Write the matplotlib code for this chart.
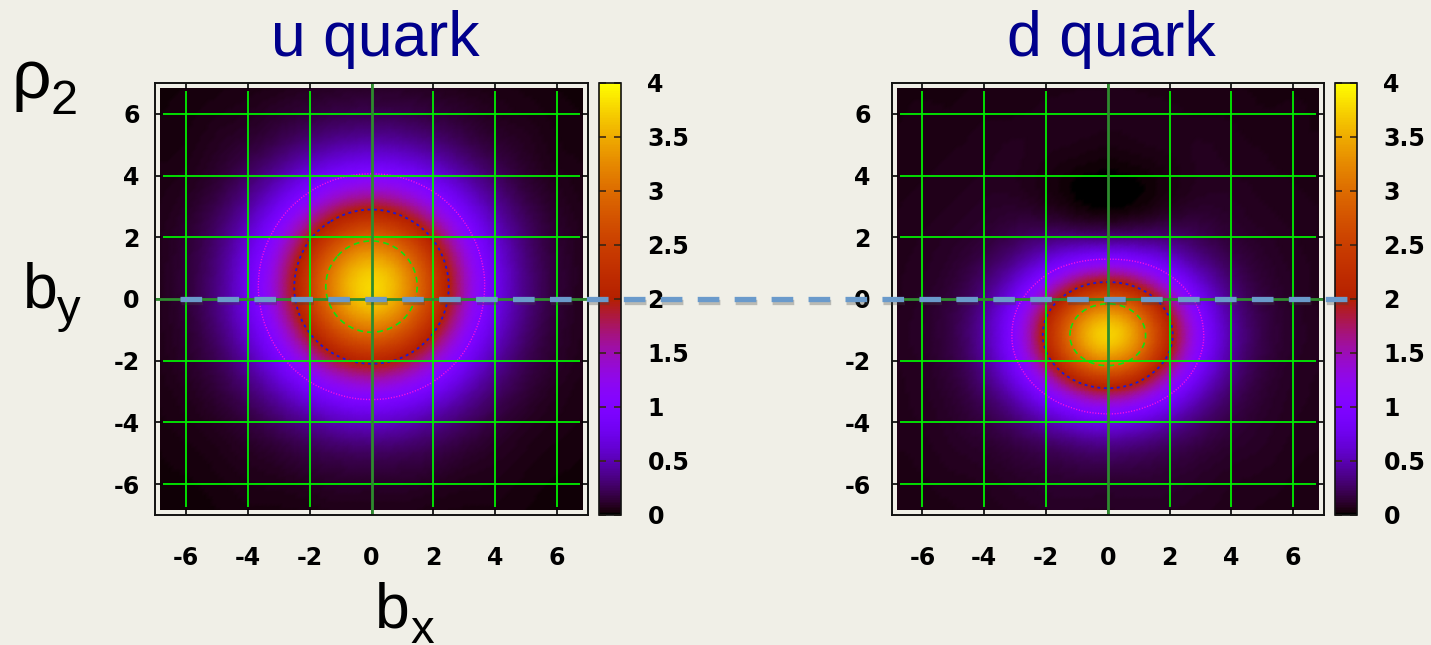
import numpy as np
import matplotlib
matplotlib.use("Agg")
import matplotlib.pyplot as plt
import matplotlib.tri as mtri
import matplotlib.patheffects as pe
from matplotlib.lines import Line2D
from matplotlib.patches import Rectangle
from matplotlib import transforms

# ---------------- data ----------------
b_grid = [-7, -6, -5, -4, -3, -2, -1, 0, 1, 2, 3, 4, 5, 6, 7]   # b_x and b_y sample points
# rows: b_y = 7 (top) ... -7 (bottom); columns: b_x = -7 ... 7
u_density = [
    [0.03, 0.03, 0.04, 0.05, 0.06, 0.08, 0.09, 0.10, 0.09, 0.08, 0.06, 0.05, 0.04, 0.03, 0.03],
    [0.03, 0.04, 0.06, 0.08, 0.12, 0.16, 0.20, 0.21, 0.20, 0.16, 0.12, 0.08, 0.06, 0.04, 0.03],
    [0.04, 0.05, 0.09, 0.14, 0.23, 0.35, 0.45, 0.49, 0.45, 0.35, 0.23, 0.14, 0.09, 0.05, 0.04],
    [0.05, 0.07, 0.13, 0.26, 0.46, 0.72, 0.95, 1.04, 0.95, 0.72, 0.46, 0.26, 0.13, 0.07, 0.05],
    [0.06, 0.10, 0.21, 0.43, 0.80, 1.29, 1.72, 1.90, 1.72, 1.29, 0.80, 0.43, 0.21, 0.10, 0.06],
    [0.07, 0.13, 0.29, 0.62, 1.19, 1.94, 2.61, 2.89, 2.61, 1.94, 1.19, 0.62, 0.29, 0.13, 0.07],
    [0.07, 0.15, 0.34, 0.76, 1.47, 2.41, 3.27, 3.63, 3.27, 2.41, 1.47, 0.76, 0.34, 0.15, 0.07],
    [0.07, 0.15, 0.35, 0.77, 1.50, 2.46, 3.33, 3.71, 3.33, 2.46, 1.50, 0.77, 0.35, 0.15, 0.07],
    [0.07, 0.13, 0.30, 0.65, 1.26, 2.06, 2.77, 3.07, 2.77, 2.06, 1.26, 0.65, 0.30, 0.13, 0.07],
    [0.06, 0.11, 0.22, 0.46, 0.88, 1.42, 1.90, 2.10, 1.90, 1.42, 0.88, 0.46, 0.22, 0.11, 0.06],
    [0.05, 0.08, 0.15, 0.29, 0.52, 0.82, 1.08, 1.19, 1.08, 0.82, 0.52, 0.29, 0.15, 0.08, 0.05],
    [0.04, 0.06, 0.09, 0.16, 0.27, 0.40, 0.53, 0.58, 0.53, 0.40, 0.27, 0.16, 0.09, 0.06, 0.04],
    [0.03, 0.04, 0.06, 0.09, 0.13, 0.19, 0.23, 0.25, 0.23, 0.19, 0.13, 0.09, 0.06, 0.04, 0.03],
    [0.03, 0.03, 0.04, 0.06, 0.07, 0.09, 0.11, 0.11, 0.11, 0.09, 0.07, 0.06, 0.04, 0.03, 0.03],
    [0.02, 0.03, 0.03, 0.04, 0.04, 0.05, 0.06, 0.06, 0.06, 0.05, 0.04, 0.04, 0.03, 0.03, 0.02],
]
d_density = [
    [0.04, 0.04, 0.04, 0.05, 0.05, 0.05, 0.06, 0.06, 0.06, 0.05, 0.05, 0.05, 0.04, 0.04, 0.04],
    [0.04, 0.05, 0.05, 0.06, 0.06, 0.07, 0.07, 0.07, 0.07, 0.07, 0.06, 0.06, 0.05, 0.05, 0.04],
    [0.05, 0.05, 0.06, 0.07, 0.08, 0.07, 0.06, 0.05, 0.06, 0.07, 0.08, 0.07, 0.06, 0.05, 0.05],
    [0.05, 0.06, 0.07, 0.08, 0.08, 0.05, 0.02, 0.01, 0.02, 0.05, 0.08, 0.08, 0.07, 0.06, 0.05],
    [0.06, 0.07, 0.08, 0.10, 0.11, 0.08, 0.03, 0.01, 0.03, 0.08, 0.11, 0.10, 0.08, 0.07, 0.06],
    [0.06, 0.08, 0.10, 0.14, 0.22, 0.30, 0.33, 0.33, 0.33, 0.30, 0.22, 0.14, 0.10, 0.08, 0.06],
    [0.07, 0.09, 0.13, 0.24, 0.46, 0.83, 1.21, 1.37, 1.21, 0.83, 0.46, 0.24, 0.13, 0.09, 0.07],
    [0.07, 0.10, 0.17, 0.37, 0.84, 1.61, 2.43, 2.79, 2.43, 1.61, 0.84, 0.37, 0.17, 0.10, 0.07],
    [0.08, 0.11, 0.20, 0.46, 1.08, 2.11, 3.21, 3.72, 3.21, 2.11, 1.08, 0.46, 0.20, 0.11, 0.08],
    [0.08, 0.10, 0.18, 0.41, 0.95, 1.83, 2.78, 3.20, 2.78, 1.83, 0.95, 0.41, 0.18, 0.10, 0.08],
    [0.07, 0.09, 0.14, 0.28, 0.58, 1.08, 1.61, 1.85, 1.61, 1.08, 0.58, 0.28, 0.14, 0.09, 0.07],
    [0.07, 0.08, 0.11, 0.17, 0.29, 0.48, 0.67, 0.76, 0.67, 0.48, 0.29, 0.17, 0.11, 0.08, 0.07],
    [0.06, 0.07, 0.09, 0.11, 0.15, 0.20, 0.25, 0.28, 0.25, 0.20, 0.15, 0.11, 0.09, 0.07, 0.06],
    [0.05, 0.06, 0.07, 0.08, 0.10, 0.12, 0.13, 0.13, 0.13, 0.12, 0.10, 0.08, 0.07, 0.06, 0.05],
    [0.05, 0.06, 0.06, 0.07, 0.08, 0.09, 0.09, 0.09, 0.09, 0.09, 0.08, 0.07, 0.06, 0.06, 0.05],
]
titles = ["u quark", "d quark"]
axis_ticks = [-6, -4, -2, 0, 2, 4, 6]
axis_tick_labels = ["-6", "-4", "-2", "0", "2", "4", "6"]
grid_ticks = [-6, -4, -2, 2, 4, 6]
cbar_ticks = [0, 0.5, 1, 1.5, 2, 2.5, 3, 3.5, 4]
cbar_tick_labels = ["0", "0.5", "1", "1.5", "2", "2.5", "3", "3.5", "4"]
contour_levels = [1, 2, 3]

# ---------------- style ----------------
BG = "#f0efe7"
W, H = 1431, 645
fig = plt.figure(figsize=(W / 100, H / 100), dpi=100, facecolor=BG)

def fx(px):
    return px / W

def fy(py):
    return (H - py) / H

# triangulated grid
xs = np.array(b_grid, dtype=float)
ys = np.array(b_grid[::-1], dtype=float)
X, Y = np.meshgrid(xs, ys)
n = len(b_grid)
tris = []
for i in range(n - 1):
    for j in range(n - 1):
        a = i * n + j
        tris.append([a, a + 1, a + n])
        tris.append([a + 1, a + n + 1, a + n])
tri = mtri.Triangulation(X.ravel(), Y.ravel(), np.array(tris))
refiner = mtri.UniformTriRefiner(tri)

ax_boxes = [(155, 588), (891.5, 1324)]
cb_boxes = [(599, 621), (1335, 1357)]
ytick_pads = [11, 15]
ax_top, ax_bot = 83, 515
tick_font = dict(family="DejaVu Sans", weight="bold", size=17)

axes = []
for k, (data, title) in enumerate(zip([u_density, d_density], titles)):
    l, r = ax_boxes[k]
    ax = fig.add_axes([fx(l), fy(ax_bot), fx(r - l), (ax_bot - ax_top) / H])
    ax.set_facecolor(BG)
    ax.set_xlim(-7, 7)
    ax.set_ylim(-7, 7)
    z = np.array(data, dtype=float).ravel()
    tri_r, z_r = refiner.refine_field(z, subdiv=3)
    tpc = ax.tripcolor(tri_r, z_r, shading="gouraud", cmap="gnuplot",
                       vmin=0, vmax=4, zorder=1)
    clip = Rectangle((-6.83, -6.83), 13.66, 13.66, transform=ax.transData)
    tpc.set_clip_path(clip)
    ax.tricontour(tri_r, z_r, levels=contour_levels,
                  colors=["#ff10e0", "#1a1ad8", "#10e010"],
                  linewidths=[1.0, 1.3, 1.2],
                  linestyles=[(0, (0.8, 1.2)), (0, (1.6, 2.0)), (0, (3.5, 2.5))],
                  zorder=3)
    ax.vlines(grid_ticks, -6.73, 6.73, color="#00f000", lw=1.3, zorder=4)
    ax.hlines(grid_ticks, -6.73, 6.73, color="#00f000", lw=1.3, zorder=4)
    ax.axvline(0, color="#2e8c2e", lw=2.0, zorder=4)
    ax.axhline(0, color="#2e8c2e", lw=2.0, zorder=4)
    ax.set_xticks(axis_ticks)
    ax.set_yticks(axis_ticks)
    ax.set_xticklabels(axis_tick_labels, fontdict=tick_font)
    ax.set_yticklabels(axis_tick_labels, fontdict=tick_font)
    ax.tick_params(axis="both", direction="in", length=4, width=1.2, color="k",
                   top=True, right=True)
    ax.tick_params(axis="x", pad=22)
    ax.tick_params(axis="y", pad=ytick_pads[k])
    for s in ax.spines.values():
        s.set_linewidth(1.4)
        s.set_color("#111111")
        s.set_zorder(6)
    cx = (l + r) / 2
    fig.text(fx(cx + 4), fy(56), title, ha="center", va="baseline",
             fontsize=45, color="#00008c", family="Liberation Sans")

    cl, cr = cb_boxes[k]
    cax = fig.add_axes([fx(cl), fy(ax_bot), fx(cr - cl), (ax_bot - ax_top) / H])
    cb = fig.colorbar(tpc, cax=cax, ticks=cbar_ticks)
    cb.ax.set_yticklabels(cbar_tick_labels, fontdict=tick_font)
    cb.ax.tick_params(direction="in", left=True, right=True, length=5,
                      width=1.2, color="#3a2615", pad=19)
    cb.outline.set_linewidth(1.2)
    cb.outline.set_edgecolor("#111111")
    axes.append(ax)

# axis labels
lab_font = dict(family="Liberation Sans", color="black")
fig.text(fx(11), fy(98), "ρ", fontsize=50, ha="left", va="baseline", **lab_font)
fig.text(fx(50), fy(114), "2", fontsize=35, ha="left", va="baseline", **lab_font)
fig.text(fx(23), fy(307), "b", fontsize=45, ha="left", va="baseline", **lab_font)
fig.text(fx(57), fy(322), "y", fontsize=34, ha="left", va="baseline", **lab_font)
fig.text(fx(375), fy(628), "b", fontsize=45, ha="left", va="baseline", **lab_font)
fig.text(fx(410), fy(643), "x", fontsize=34, ha="left", va="baseline", **lab_font)

# dashed line across both panels at b_y = 0
trans = transforms.blended_transform_factory(fig.transFigure, axes[0].transData)
line = Line2D([fx(180), fx(1350)], [0, 0], transform=trans, color="#6a9acb",
              lw=3.8, linestyle=(0, (4.1, 2.9)), solid_capstyle="butt",
              zorder=20)
line.set_path_effects([pe.SimpleLineShadow(offset=(0.8, -2.2), shadow_color="#404040",
                                           alpha=0.3), pe.Normal()])
fig.add_artist(line)

fig.savefig("out.png", dpi=100, facecolor=BG)
